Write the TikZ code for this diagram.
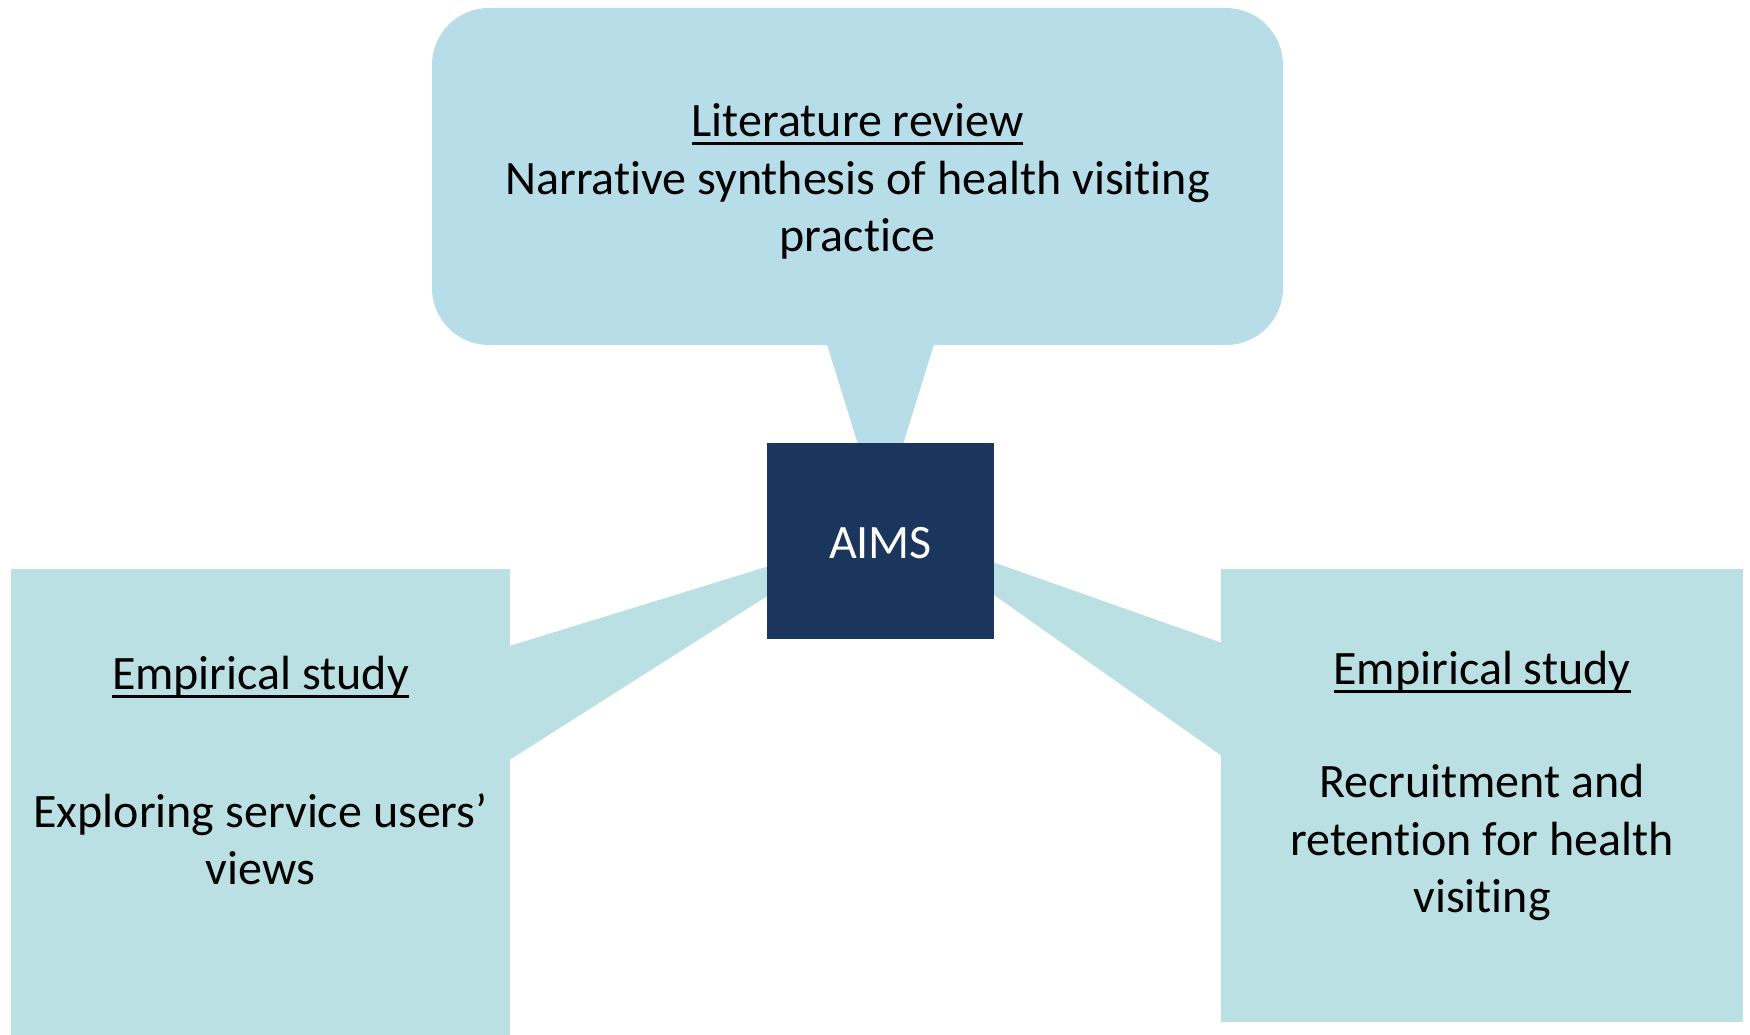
\documentclass[tikz,border=0pt]{standalone}
\usepackage{fontspec}
\setmainfont{Carlito}[Ligatures=NoCommon]
\usetikzlibrary{calc}
\definecolor{topfill}{HTML}{B7DDE8}
\definecolor{sidefill}{HTML}{BBE0E3}
\definecolor{aimsfill}{HTML}{1B365D}
\newcommand{\ulx}[1]{\setbox0\hbox{#1}\rlap{\rule[-8.5pt]{\wd0}{3pt}}\box0}
\begin{document}
\begin{tikzpicture}[x=1pt,y=-1pt,
  txt/.style={anchor=base,inner sep=0pt,font=\fontsize{48pt}{58pt}\selectfont},
  topbox/.style={fill=topfill,draw=none,rectangle,rounded corners=57pt,inner sep=0pt},
  sidebox/.style={fill=sidefill,draw=none,rectangle,inner sep=0pt},
  aimsbox/.style={fill=aimsfill,draw=none,rectangle,inner sep=0pt}]
\useasboundingbox (0,0) rectangle (1750,1035);
% shapes (nodes)
\node[topbox,minimum width=851pt,minimum height=337pt] (lit) at (857.5,176.5) {};
\node[sidebox,minimum width=499pt,minimum height=466pt] (left) at (260.5,802) {};
\node[sidebox,minimum width=522pt,minimum height=453pt] (right) at (1482,795.5) {};
\path (880.5,541) coordinate (ac);
% pointers
\fill[topfill] ($(lit.south)+(-31.5,-4)$) -- ($(lit.south)+(77.5,-4)$) -- ($(ac)+(0,-24)$) -- cycle;
\fill[sidefill] ($(left.east)+(-4,-155)$) -- ($(ac)+(-23.5,-2)$) -- ($(left.east)+(-4,-40)$) -- cycle;
\fill[sidefill] ($(right.west)+(4,-151.5)$) -- ($(ac)+(21.5,-11)$) -- ($(right.west)+(4,-37.5)$) -- cycle;
\node[aimsbox,minimum width=227pt,minimum height=196pt] (aims) at (ac) {};
% texts
\node[txt] (t1) at (857.5,137) {\ulx{Literature review}};
\node[txt] (t2) at (857.5,195) {Narrative synthesis of health visiting};
\node[txt] (t3) at (857.5,251) {practice};
\node[txt] (l1) at (260.5,689) {\ulx{Empirical study}};
\node[txt] (l2) at (260.5,827) {Exploring service users’};
\node[txt] (l3) at (260.5,884) {views};
\node[txt] (r1) at (1482,684) {\ulx{Empirical study}};
\node[txt] (r2) at (1482,797) {Recruitment and};
\node[txt] (r3) at (1482,855) {retention for health};
\node[txt] (r4) at (1482,912) {visiting};
\node[txt,text=white] (a1) at (880.5,558) {AIMS};
\end{tikzpicture}
\end{document}
